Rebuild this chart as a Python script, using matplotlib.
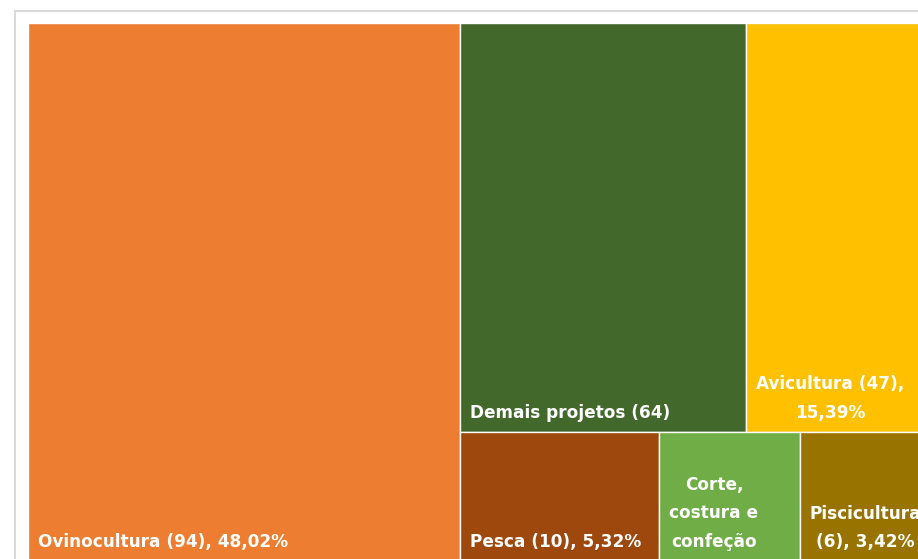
import matplotlib
matplotlib.use("Agg")
import matplotlib.pyplot as plt
from matplotlib.patches import Rectangle

# ---- data ----
categories = ["Ovinocultura", "Demais projetos", "Avicultura", "Pesca",
              "Corte, costura e confeção", "Piscicultura"]
shares = [48.02, 24.10, 15.39, 5.32, 3.75, 3.42]   # % (size of each tile)
labels = ["Ovinocultura (94), 48,02%",
          "Demais projetos (64)",
          "Avicultura (47),\n15,39%",
          "Pesca (10), 5,32%",
          "Corte,\ncostura e\nconfeção",
          "Piscicultura\n(6), 3,42%"]
colors = ["#ED7D31", "#43682B", "#FFC000", "#9E480E", "#70AD47", "#997300"]

W_PX, H_PX = 918, 559
fig = plt.figure(figsize=(W_PX / 100, H_PX / 100), dpi=100)
ax = fig.add_axes([0, 0, 1, 1])
ax.set_xlim(0, W_PX)
ax.set_ylim(H_PX, 0)
ax.axis("off")

# chart-area border (partially cropped in the reference)
ax.plot([14.5, 14.5, W_PX + 5], [H_PX + 5, 10.5, 10.5], color="#D9D9D9", lw=1.4,
        solid_joinstyle="miter")

# plot area of the treemap
X0, Y0, PW, PH = 28, 23, 900, 538


def mean_aspect(row, side):
    s = sum(row)
    t = s / side
    asp = []
    for a in row:
        l = a / t
        asp.append(max(t / l, l / t))
    return sum(asp) / len(asp)


def treemap(vals, x, y, w, h):
    total = sum(vals)
    areas = [v / total * w * h for v in vals]
    rects = []
    i = 0
    while i < len(areas):
        side = min(w, h)
        row = [areas[i]]
        j = i + 1
        while j < len(areas) and mean_aspect(row + [areas[j]], side) <= mean_aspect(row, side):
            row.append(areas[j])
            j += 1
        s = sum(row)
        if w >= h:
            t = s / h
            yy = y
            for a in row:
                hh = a / t
                rects.append((x, yy, t, hh))
                yy += hh
            x += t
            w -= t
        else:
            t = s / w
            xx = x
            for a in row:
                ww = a / t
                rects.append((xx, y, ww, t))
                xx += ww
            y += t
            h -= t
        i = j
    return rects


rects = treemap(shares, X0, Y0, PW, PH)
for (x, y, w, h), c, lab in zip(rects, colors, labels):
    ax.add_patch(Rectangle((x, y), w, h, facecolor=c, edgecolor="white", lw=1.0))
    ax.text(x + 10, y + h - 14, lab, color="white", fontsize=12.2,
            fontfamily="DejaVu Sans", fontweight="bold",
            ha="left", va="baseline", multialignment="center", linespacing=1.75)

fig.savefig("out.png", dpi=100)
